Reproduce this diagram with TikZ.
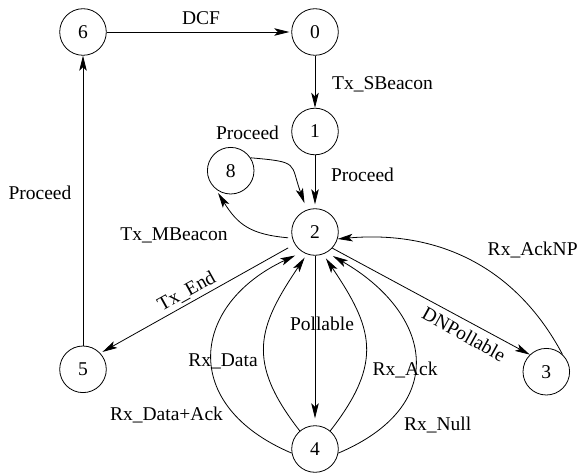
\documentclass[tikz,border=0pt]{standalone}
\usepackage{fontspec}
\setmainfont{Liberation Serif}
\usetikzlibrary{arrows.meta}
\begin{document}
\begin{tikzpicture}[x=1pt,y=1pt,
  state/.style={circle,draw,line width=0.8pt,minimum size=46.6pt,inner sep=0pt,font=\fontsize{19.5}{23}\selectfont},
  lbl/.style={font=\fontsize{19.5}{23}\selectfont,inner sep=0pt,anchor=base},
  rlbl/.style={font=\fontsize{19.5}{23}\selectfont,inner sep=0pt,anchor=center},
  arr/.style={line width=0.8pt,-{Stealth[length=15pt,width=7.5pt,inset=3.5pt]}}]
\useasboundingbox (0,0) rectangle (581,472);
% states
\node[state] (6) at (83,440) {6};
\node[state] (0) at (315,440) {0};
\node[state] (1) at (315,340.5) {1};
\node[state] (8) at (230.7,301.3) {8};
\node[state] (2) at (315,240) {2};
\node[state] (5) at (83,102.7) {5};
\node[state] (3) at (546.3,100.3) {3};
\node[state] (4) at (315,23) {4};
% straight edges
\draw[arr,shorten >=2pt] (6) -- (0);
\draw[arr] (0) -- (1);
\draw[arr,shorten >=4pt] (1) -- (2);
\draw[arr] (5) -- (6);
\draw[arr,shorten >=7pt] (2) -- (4);
\draw[arr,shorten <=7.5pt,shorten >=2.4pt] (2.211) -- (5.43);
\draw[arr] (2.-43) -- (3.134);
% loop with 8
\draw[arr,shorten >=7pt] (8.33) to[out=-5,in=110,distance=50pt] (2.110);
\draw[arr,shorten <=4pt,shorten >=5pt] (2.195) to[out=175,in=-58,distance=42pt] (8.230);
% 3 back to 2
\draw[arr] (3.47) to[out=118,in=5,distance=100pt] (2.-17);
% 4 back to 2
\draw[arr,shorten >=8pt] (4.190) to[out=157,in=205,distance=123pt] (2.238);
\draw[arr,shorten >=4pt] (4.130) to[out=128,in=236,distance=88pt] (2.250);
\draw[arr,shorten >=5pt] (4.50) to[out=52,in=304,distance=88pt] (2.-70);
\draw[arr,shorten >=7pt] (4.-10) to[out=23,in=-30,distance=122pt] (2.-60);
% labels
\node[lbl] (lDCF) at (201,447) {DCF};
\node[lbl] (lTxS) at (382.5,382) {Tx\_SBeacon};
\node[lbl] (lP8) at (247.5,332) {Proceed};
\node[lbl] (lP12) at (362.5,290.3) {Proceed};
\node[lbl] (lP56) at (40,272.7) {Proceed};
\node[lbl] (lTxM) at (174,232) {Tx\_MBeacon};
\node[lbl] (lPoll) at (322,142) {Pollable};
\node[lbl] (lRxD) at (223,106) {Rx\_Data};
\node[lbl] (lRxDA) at (166.5,51.3) {Rx\_Data+Ack};
\node[lbl] (lRxA) at (405,97) {Rx\_Ack};
\node[lbl] (lRxN) at (437.6,41.3) {Rx\_Null};
\node[lbl] (lRxANP) at (532.7,217) {Rx\_AckNP};
\node[rlbl,rotate=29] (lTxE) at (186.7,180.3) {Tx\_End};
\node[rlbl,rotate=-29] (lDNP) at (464,137.7) {DNPollable};
\end{tikzpicture}
\end{document}
